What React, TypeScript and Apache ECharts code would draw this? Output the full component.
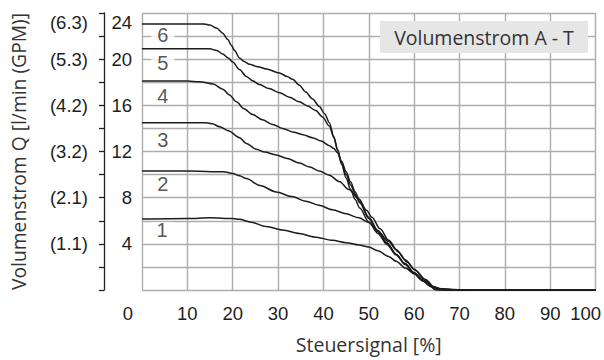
import React, { useEffect, useRef } from "react";
import * as echarts from "echarts";

const xTicks = [0, 10, 20, 30, 40, 50, 60, 70, 80, 90, 100];
const yTicks = [4, 8, 12, 16, 20, 24];
const gpmLabels = ["(1.1)", "(2.1)", "(3.2)", "(4.2)", "(5.3)", "(6.3)"];
const curveNames = ["1", "2", "3", "4", "5", "6"];
const curveLabelPos = [
  [4.4, 5.2],
  [4.6, 9.2],
  [4.6, 13.0],
  [4.6, 16.8],
  [4.6, 19.7],
  [4.6, 22.1],
];

const curve1 = [
  [0, 6.15], [10, 6.2], [15, 6.25], [20, 6.2], [21.5, 6.12], [24, 5.88], [27.4, 5.5], [31, 5.2],
  [34.7, 4.9], [38, 4.6], [42, 4.3], [45, 4.1], [47.8, 3.9], [50, 3.72], [52, 3.4], [54.4, 2.9],
  [56, 2.5], [58.1, 1.9], [60, 1.4], [61.7, 0.87], [63.5, 0.35], [64.7, 0], [100, 0],
];
const curve2 = [
  [0, 10.3], [10, 10.3], [18, 10.25], [20, 10.1], [21.5, 9.9], [23, 9.65], [26, 9.05], [29.6, 8.5],
  [33, 8.1], [36.1, 7.7], [39, 7.35], [42, 6.95], [45, 6.6], [47.8, 6.25], [50, 5.85], [52, 5.1],
  [54.4, 4.2], [56, 3.5], [58.1, 2.6], [60, 1.8], [62.5, 0.85], [64, 0.3], [65.4, 0], [100, 0],
];
const curve3 = [
  [0, 14.5], [10, 14.5], [14.2, 14.5], [15.5, 14.4], [17.1, 14.15], [19, 13.8], [21.5, 13.2],
  [23, 12.7], [25.2, 12.2], [27, 11.95], [29.6, 11.7], [32, 11.4], [34.7, 11.0], [37, 10.65],
  [39.1, 10.3], [41.3, 9.95], [43.5, 9.4], [45.6, 8.7], [47.8, 7.9], [49.5, 6.9], [50.7, 6.3],
  [52.5, 5.3], [54.4, 4.3], [56.5, 3.3], [58.5, 2.4], [60.3, 1.7], [62.5, 0.9], [64.7, 0.15],
  [66.5, 0.03], [68.3, 0], [100, 0],
];
const curve4 = [
  [0, 18.1], [10, 18.1], [12.7, 18.05], [15.7, 17.85], [17.8, 17.4], [19.3, 16.9], [20.8, 16.3],
  [22.5, 15.7], [24.4, 15.2], [26.5, 14.75], [28.8, 14.35], [31, 14.0], [33.2, 13.7], [35.5, 13.45],
  [37.6, 13.2], [39.5, 12.9], [41.3, 12.5], [42.3, 12.25], [43.1, 11.9], [44, 11.15], [45, 10.25],
  [46, 9.35], [47, 8.5], [48, 7.7], [50, 6.3], [52, 5.15], [54, 4.1], [56, 3.1], [58, 2.2],
  [60, 1.45], [62, 0.75], [64, 0.25], [66, 0.05], [68, 0], [100, 0],
];
const curve5 = [
  [0, 20.9], [10, 20.9], [14.9, 20.9], [16.5, 20.75], [17.8, 20.45], [19, 20.1], [20, 19.75],
  [21.5, 19.1], [23, 18.5], [24.5, 18.1], [25.9, 17.8], [28, 17.45], [30.3, 17.1], [32.5, 16.7],
  [34.7, 16.3], [36.5, 15.95], [38.3, 15.55], [39.8, 15.0], [41.3, 14.2], [42.3, 13.2], [43.1, 12.2],
  [44, 11.0], [45, 10.0], [46, 9.1], [47, 8.3], [48, 7.55], [50, 6.2], [52, 5.05], [54, 4.05],
  [56, 3.1], [58, 2.3], [60, 1.5], [62, 0.85], [64, 0.3], [66, 0.08], [69, 0], [100, 0],
];
const curve6 = [
  [0, 23.05], [10, 23.05], [13.7, 23.05], [15, 22.95], [16.4, 22.7], [17.8, 22.25], [18.9, 21.7],
  [19.7, 21.2], [20.4, 20.75], [21.5, 20.1], [22.5, 19.8], [23.7, 19.55], [25.5, 19.35],
  [27.4, 19.15], [30.3, 18.8], [32, 18.5], [33.2, 18.25], [34.7, 17.75], [36.1, 17.15],
  [37.6, 16.55], [39.1, 15.9], [40.3, 15.25], [41.3, 14.5], [42.3, 13.3], [43.1, 12.1], [44, 10.9],
  [45, 9.7], [46, 8.7], [47, 7.85], [48, 7.1], [50, 5.9], [52, 4.9], [54, 3.95], [56, 3.05],
  [58, 2.25], [60, 1.5], [62, 0.8], [64, 0.3], [66, 0.1], [70, 0.02], [75, 0], [100, 0],
];
const curves = [curve1, curve2, curve3, curve4, curve5, curve6];

const NUM_FONT = "'Liberation Sans Narrow', 'Liberation Sans', Arial, sans-serif";
const TXT_FONT = "'Open Sans', 'Noto Sans', sans-serif";
const GRID_COLOR = "#adadad";

export default function App() {
  const ref = useRef<HTMLDivElement>(null);
  useEffect(() => {
    if (!ref.current) return;
    const chart = echarts.init(ref.current, null, { renderer: "svg" });
    const numStyle = { fontFamily: NUM_FONT, fontSize: 18.5, color: "#1e1e1e" };
    const option: any = {
      animation: false,
      backgroundColor: "#fff",
      grid: { left: 142, right: 6, top: 13, bottom: 70, containLabel: false },
      xAxis: {
        type: "value",
        min: 0,
        max: 100,
        interval: 10,
        axisLine: { show: false },
        axisTick: { show: false },
        splitLine: { show: true, lineStyle: { color: GRID_COLOR, width: 1.4 } },
        axisLabel: {
          margin: 14,
          ...numStyle,
          formatter: (v: number) => {
            if (!xTicks.includes(v)) return "";
            if (v === 0) return "{a|0}";
            if (v === 100) return "{b|100}";
            return String(v);
          },
          rich: {
            a: { ...numStyle, padding: [0, 28, 0, 0] },
            b: { ...numStyle, padding: [0, 20, 0, 0] },
          },
        },
        name: "Steuersignal [%]",
        nameLocation: "middle",
        nameGap: 44,
        nameTextStyle: { fontFamily: TXT_FONT, fontSize: 19.5, color: "#333" },
      },
      yAxis: [
        {
          type: "value",
          min: 0,
          max: 24,
          interval: 2,
          position: "left",
          axisLine: { show: false },
          axisTick: { show: false },
          splitLine: { show: true, lineStyle: { color: GRID_COLOR, width: 1.4 } },
          axisLabel: {
            margin: 10,
            ...numStyle,
            formatter: (v: number) => {
              if (!yTicks.includes(v)) return "";
              if (v === 24) return "{t|24}";
              return String(v);
            },
            rich: { t: { ...numStyle, padding: [18, 0, 0, 0] } },
          },
          name: "Volumenstrom Q [l/min (GPM)]",
          nameLocation: "middle",
          nameGap: 114,
          nameTextStyle: { fontFamily: TXT_FONT, fontSize: 19.3, color: "#333" },
        },
        {
          type: "value",
          min: 0,
          max: 24,
          interval: 2,
          position: "left",
          offset: 38,
          axisLine: { show: true, lineStyle: { color: "#222", width: 1.3 } },
          axisTick: { show: true, length: 5, lineStyle: { color: "#222", width: 1.3 } },
          splitLine: { show: false },
          axisLabel: {
            margin: 16,
            ...numStyle,
            formatter: (v: number) => {
              const i = yTicks.indexOf(v);
              if (i < 0) return "";
              if (v === 24) return "{t|" + gpmLabels[i] + "}";
              return gpmLabels[i];
            },
            rich: { t: { ...numStyle, padding: [18, 0, 0, 0] } },
          },
        },
      ],
      graphic: [
        {
          type: "rect",
          shape: { x: 380, y: 21, width: 208, height: 32 },
          style: { fill: "#e6e6e6" },
          z: 100,
        },
        {
          type: "text",
          x: 484,
          y: 37.5,
          style: {
            text: "Volumenstrom A - T",
            fontFamily: TXT_FONT,
            fontSize: 19.5,
            fill: "#333",
            align: "center",
            verticalAlign: "middle",
          },
          z: 101,
        },
      ],
      series: [
        {
          type: "scatter",
          z: 1,
          symbolSize: 1,
          itemStyle: { color: "rgba(0,0,0,0)" },
          data: curveLabelPos.map((p, i) => [p[0], p[1], curveNames[i]]),
          label: {
            show: true,
            position: "inside",
            formatter: (p: any) => p.value[2],
            fontFamily: "'Liberation Sans', Arial, sans-serif",
            fontSize: 20,
            color: "#2a2a2a",
            backgroundColor: "#fff",
            padding: [0, 6],
            lineHeight: 16,
          },
        },
        ...curves.map((c, i) => ({
          type: "line",
          name: curveNames[i],
          z: 3,
          data: c,
          showSymbol: false,
          symbol: "none",
          smooth: 0.3,
          smoothMonotone: "x",
          lineStyle: { color: "#1c1c1c", width: 1.5 },
        })),
      ],
    };
    chart.setOption(option);
    return () => chart.dispose();
  }, []);
  return (
    <div
      ref={ref}
      style={{ position: "fixed", left: 0, top: 0, width: 604, height: 360, background: "#fff" }}
    />
  );
}
